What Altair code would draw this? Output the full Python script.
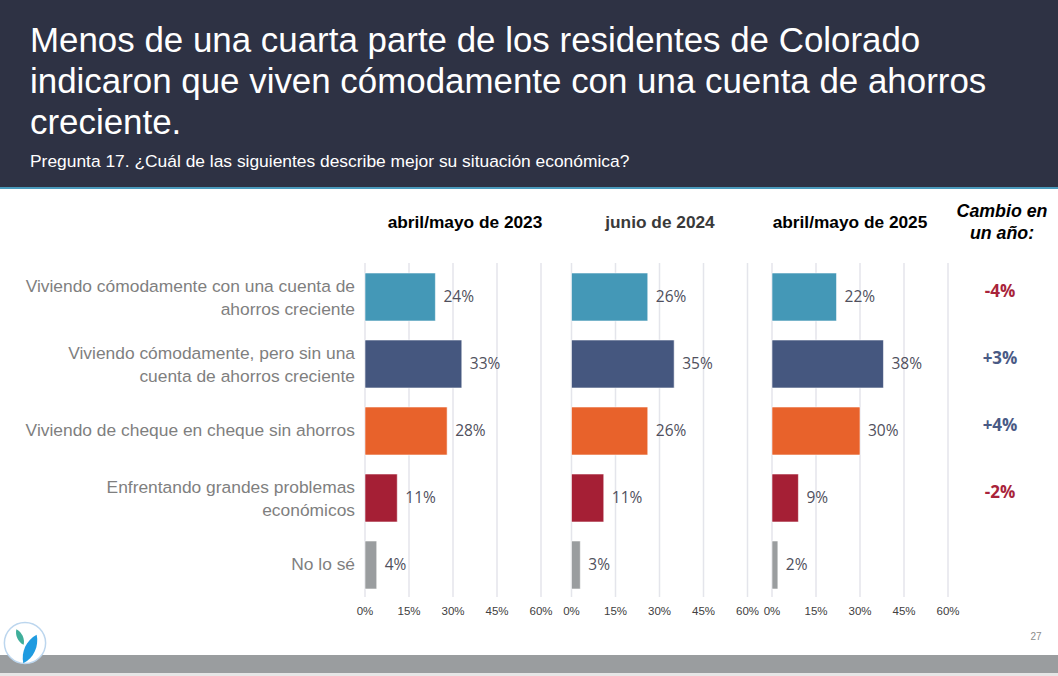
import altair as alt
import pandas as pd

# ---------------- data ----------------
categories = [
    "Viviendo cómodamente con una cuenta de ahorros creciente",
    "Viviendo cómodamente, pero sin una cuenta de ahorros creciente",
    "Viviendo de cheque en cheque sin ahorros",
    "Enfrentando grandes problemas económicos",
    "No lo sé",
]
category_labels = [
    "Viviendo cómodamente con una cuenta de\nahorros creciente",
    "Viviendo cómodamente, pero sin una\ncuenta de ahorros creciente",
    "Viviendo de cheque en cheque sin ahorros",
    "Enfrentando grandes problemas\neconómicos",
    "No lo sé",
]
wave_titles = ["abril/mayo de 2023", "junio de 2024", "abril/mayo de 2025"]
values_2023 = [24, 33, 28, 11, 4]
values_2024 = [26, 35, 26, 11, 3]
values_2025 = [22, 38, 30, 9, 2]
change_one_year = [-4, 3, 4, -2]
tick_values = [0, 15, 30, 45, 60]

title_lines = [
    "Menos de una cuarta parte de los residentes de Colorado",
    "indicaron que viven cómodamente con una cuenta de ahorros",
    "creciente.",
]
subtitle = "Pregunta 17. ¿Cuál de las siguientes describe mejor su situación económica?"
change_title = "Cambio en\nun año:"
page_number = "27"

# ---------------- styling / layout ----------------
W, H = 1058, 676
bar_colors = ["#4498b7", "#45577f", "#e8622b", "#a51f35", "#9a9d9f"]
panel_ranges = [(365, 541), (571.5, 747.5), (772, 948)]
panel_title_x = [465, 660, 850]
panel_title_colors = ["#000000", "#3a3a3a", "#000000"]
y_range = [263.5, 598.5]

one = pd.DataFrame({"k": [0]})


def xscale(i):
    return alt.Scale(domain=[0, 60], range=list(panel_ranges[i]), nice=False, zero=True)


yscale = alt.Scale(domain=categories, range=y_range, paddingInner=0.284, paddingOuter=0.142)
color_scale = alt.Scale(domain=categories, range=bar_colors)

layers = []

# header band
layers.append(
    alt.Chart(one).mark_rect(color="#2e3244").encode(
        x=alt.value(0), x2=alt.value(W), y=alt.value(0), y2=alt.value(187)
    )
)
layers.append(
    alt.Chart(one).mark_rect(color="#4a9bbd").encode(
        x=alt.value(0), x2=alt.value(W), y=alt.value(187), y2=alt.value(189)
    )
)
# title
title_y = [52, 93, 134]
for line, ty in zip(title_lines, title_y):
    layers.append(
        alt.Chart(one).mark_text(
            text=line, align="left", baseline="alphabetic", font="Liberation Sans",
            fontSize=34.9, color="#ffffff",
        ).encode(x=alt.value(30), y=alt.value(ty))
    )
layers.append(
    alt.Chart(one).mark_text(
        text=subtitle, align="left", baseline="alphabetic", font="Liberation Sans",
        fontSize=17.4, color="#ffffff",
    ).encode(x=alt.value(30), y=alt.value(167))
)

ticks_df = pd.DataFrame({"t": tick_values, "lab": [f"{t}%" for t in tick_values]})

for i, vals in enumerate([values_2023, values_2024, values_2025]):
    df = pd.DataFrame({"cat": categories, "v": vals, "lab": [f"{v}%" for v in vals]})
    # gridlines
    layers.append(
        alt.Chart(ticks_df).mark_rule(color="#e4e5eb", strokeWidth=1.5).encode(
            x=alt.X("t:Q", scale=xscale(i), axis=None),
            y=alt.value(263), y2=alt.value(597),
        )
    )
    # bars
    layers.append(
        alt.Chart(df).mark_bar(stroke="#ffffff", strokeWidth=0.8, strokeOpacity=0.7).encode(
            x=alt.X("v:Q", scale=xscale(i), axis=None),
            y=alt.Y("cat:N", scale=yscale, axis=None),
            color=alt.Color("cat:N", scale=color_scale, legend=None),
        )
    )
    # value labels
    layers.append(
        alt.Chart(df).mark_text(
            align="left", baseline="middle", dx=8, font="Open Sans", fontSize=15.5,
            color="#50505d",
        ).encode(
            x=alt.X("v:Q", scale=xscale(i), axis=None),
            y=alt.Y("cat:N", scale=yscale, axis=None),
            text="lab:N",
        )
    )
    # tick labels
    layers.append(
        alt.Chart(ticks_df).mark_text(
            baseline="middle", font="Liberation Sans", fontSize=11.5, color="#404040",
        ).encode(
            x=alt.X("t:Q", scale=xscale(i), axis=None),
            y=alt.value(612),
            text="lab:N",
        )
    )
    # panel title
    layers.append(
        alt.Chart(one).mark_text(
            text=wave_titles[i], align="center", baseline="middle", font="Liberation Sans",
            fontSize=17.3, fontWeight="bold", color=panel_title_colors[i],
        ).encode(x=alt.value(panel_title_x[i]), y=alt.value(223))
    )

# category labels (two-line labels shifted up so the block is centred on the bar)
cat_df = pd.DataFrame({"cat": categories, "lab": category_labels})
cat_df["lines"] = cat_df["lab"].str.count("\n") + 1
for n_lines, shift in [(1, 0), (2, -10.5)]:
    layers.append(
        alt.Chart(cat_df[cat_df["lines"] == n_lines]).mark_text(
            align="right", baseline="middle", font="Liberation Sans", fontSize=17.4,
            color="#7f7f7f", lineBreak="\n", lineHeight=23.5, dy=shift,
        ).encode(
            x=alt.value(355),
            y=alt.Y("cat:N", scale=yscale, axis=None),
            text="lab:N",
        )
    )

# change column
layers.append(
    alt.Chart(one).mark_text(
        text=change_title, align="center", baseline="middle", font="Liberation Sans",
        fontSize=17.8, fontWeight="bold", fontStyle="italic", color="#000000",
        lineBreak="\n", lineHeight=22,
    ).encode(x=alt.value(1002), y=alt.value(212))
)
chg_df = pd.DataFrame({
    "cat": categories[:4],
    "c": change_one_year,
    "lab": [f"{c:+d}%" for c in change_one_year],
    "clr": ["#a8233a" if c < 0 else "#4a5a85" for c in change_one_year],
})
layers.append(
    alt.Chart(chg_df).mark_text(
        align="center", baseline="middle", font="Open Sans", fontSize=17, fontWeight="bold",
        dy=-5,
    ).encode(
        x=alt.value(1000),
        y=alt.Y("cat:N", scale=yscale, axis=None),
        text="lab:N",
        color=alt.Color("clr:N", scale=None),
    )
)

# footer band
layers.append(
    alt.Chart(one).mark_rect(color="#9a9d9f").encode(
        x=alt.value(0), x2=alt.value(W), y=alt.value(655), y2=alt.value(673)
    )
)
layers.append(
    alt.Chart(one).mark_rect(color="#e6e6e6").encode(
        x=alt.value(0), x2=alt.value(W), y=alt.value(673), y2=alt.value(H)
    )
)
# logo
layers.append(
    alt.Chart(one).mark_point(
        shape="circle", size=1700, filled=True, fill="#ffffff", stroke="#bcd6ee",
        strokeWidth=1.5, opacity=1,
    ).encode(x=alt.value(25), y=alt.value(643))
)
leaf = "M0,-1 C0.45,-0.4 0.45,0.4 0,1 C-0.45,0.4 -0.45,-0.4 0,-1 Z"
layers.append(
    alt.Chart(one).mark_point(
        shape=leaf, size=300, filled=True, color="#3fae9a", angle=335, opacity=1,
    ).encode(x=alt.value(20), y=alt.value(637))
)
layers.append(
    alt.Chart(one).mark_point(
        shape=leaf, size=1000, filled=True, color="#1f9be0", angle=25, opacity=1,
    ).encode(x=alt.value(30), y=alt.value(649))
)
# page number
layers.append(
    alt.Chart(one).mark_text(
        text=page_number, align="center", baseline="middle", font="Liberation Sans",
        fontSize=10, color="#8c8c8c",
    ).encode(x=alt.value(1036), y=alt.value(637))
)

chart = (
    alt.layer(*layers)
    .resolve_scale(x="independent", y="independent")
    .properties(width=W, height=H, padding=0, autosize=alt.AutoSizeParams(type="none"),
                background="#ffffff")
    .configure_view(stroke=None)
)

chart.save("out.html", embed_options={"renderer": "svg", "actions": False})
